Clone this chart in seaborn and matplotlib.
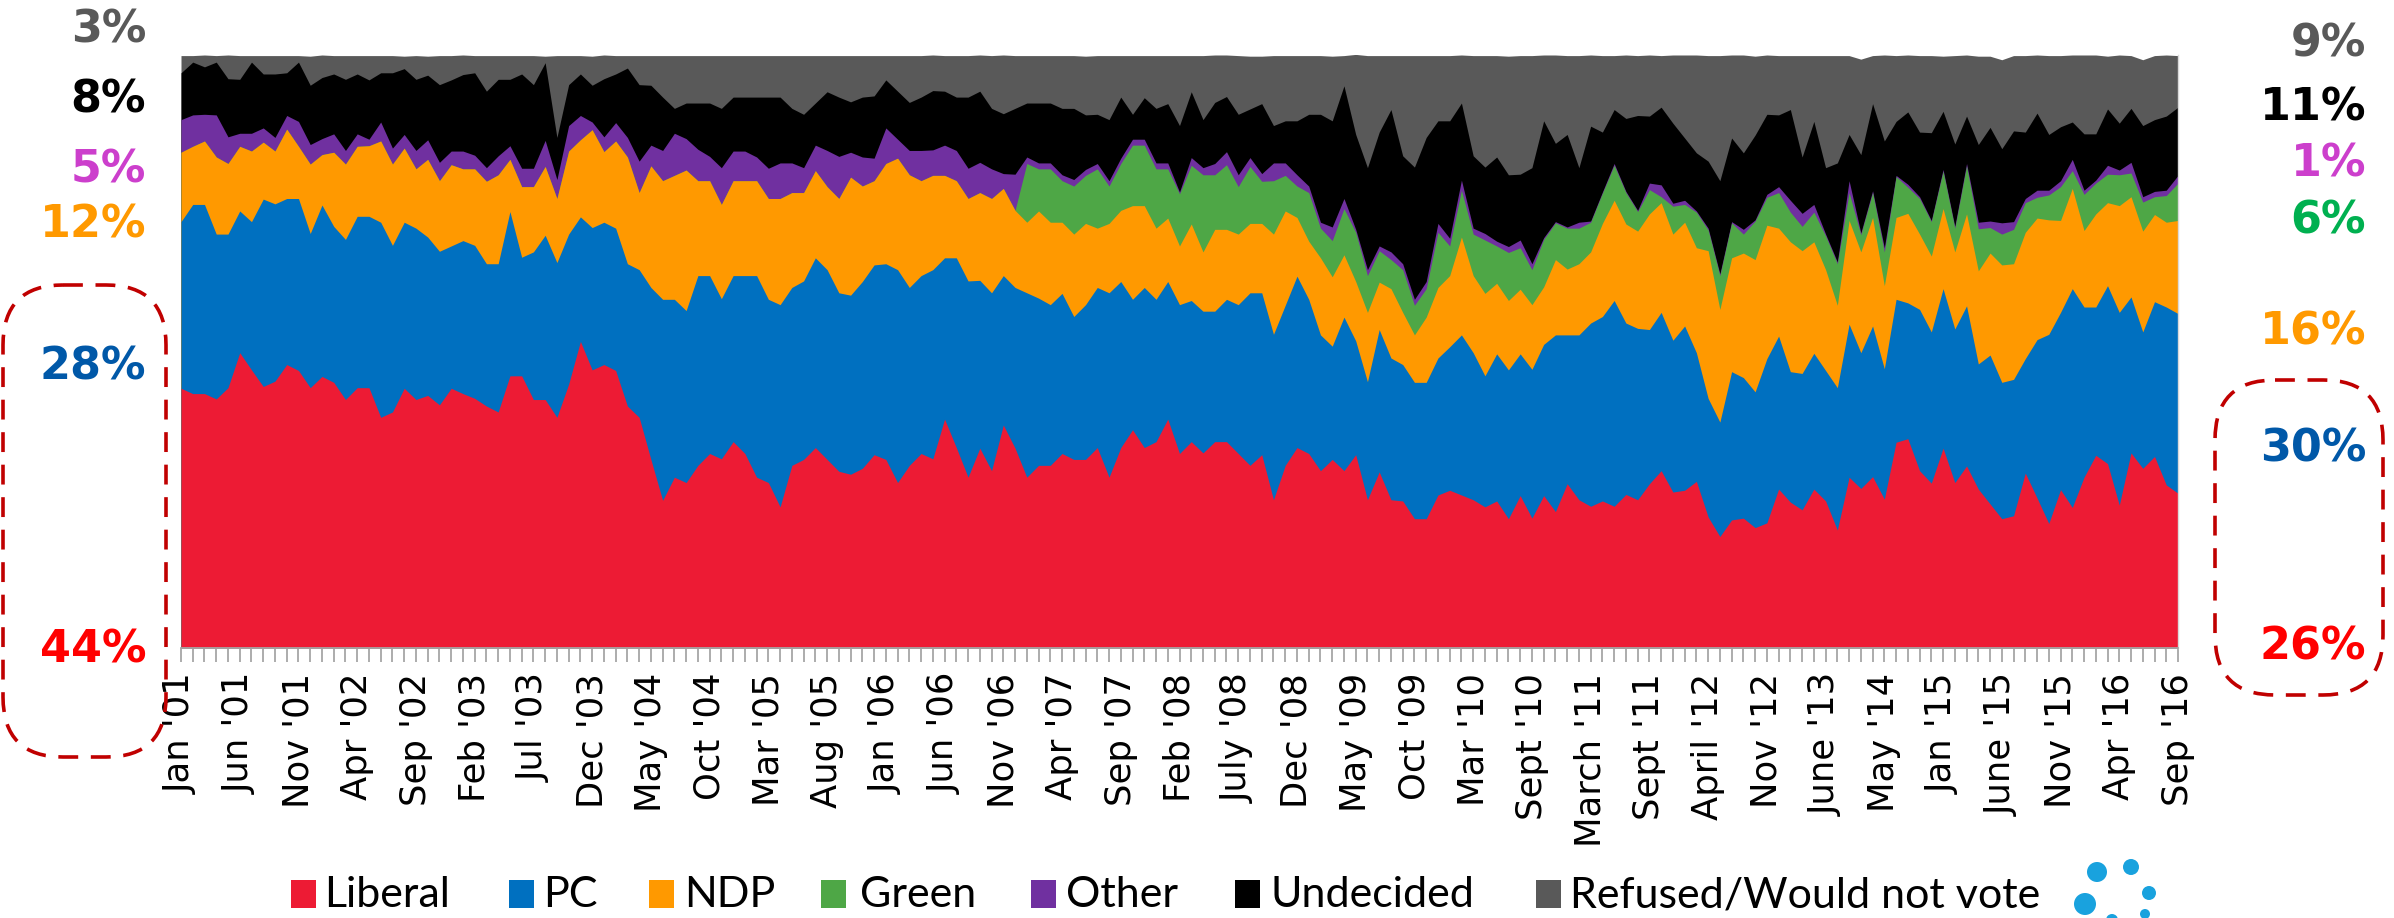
import numpy as np
import pandas as pd
import matplotlib
matplotlib.use("Agg")
import matplotlib.pyplot as plt
import seaborn as sns
from matplotlib.patches import FancyBboxPatch, Rectangle, Circle

sns.set_theme(style="white")
plt.rcParams['font.family'] = ['DejaVu Sans']

# ---------------- data (percent, one value per poll, Jan '01 .. Sep '16) ----------------
tick_labels = ["Jan '01", "Jun '01", "Nov '01", "Apr '02", "Sep '02", "Feb '03", "Jul '03", "Dec '03",
               "May '04", "Oct '04", "Mar '05", "Aug '05", "Jan '06", "Jun '06", "Nov '06", "Apr '07",
               "Sep '07", "Feb '08", "July '08", "Dec '08", "May '09", "Oct '09", "Mar '10", "Sept '10",
               "March '11", "Sept '11", "April '12", "Nov '12", "June '13", "May '14", "Jan '15",
               "June '15", "Nov '15", "Apr '16", "Sep '16"]

liberal = [43.8, 42.9, 42.9, 42.0, 43.9, 49.8, 46.9, 44.1, 45.0, 47.8,
           46.8, 43.9, 45.8, 44.8, 41.9, 43.9, 43.9, 38.9, 39.8, 43.8,
           41.9, 42.6, 41.0, 43.8, 42.9, 42.1, 40.8, 39.8, 45.9, 45.9,
           41.9, 41.9, 38.9, 44.5, 51.7, 46.9, 47.8, 46.8, 40.8, 38.9,
           31.8, 24.9, 28.8, 27.9, 30.8, 32.8, 31.9, 34.8, 32.8, 28.8,
           27.9, 23.8, 30.8, 31.8, 33.8, 31.8, 29.8, 29.3, 30.3, 32.6,
           31.8, 27.9, 30.8, 32.8, 31.9, 38.6, 33.8, 28.8, 33.7, 29.9,
           37.6, 33.7, 28.8, 30.8, 30.8, 32.8, 31.8, 31.8, 33.8, 28.8,
           33.8, 36.8, 33.8, 34.8, 38.6, 32.8, 34.8, 32.9, 34.8, 34.8,
           32.8, 30.8, 32.6, 25.0, 30.8, 33.8, 32.8, 29.9, 31.8, 29.9,
           32.6, 25.0, 29.7, 25.0, 24.8, 21.8, 21.8, 25.8, 26.6, 25.8,
           25.0, 23.8, 24.8, 21.8, 25.7, 21.9, 25.7, 23.0, 27.7, 25.0,
           23.9, 24.8, 23.9, 25.9, 25.0, 27.7, 29.9, 26.3, 26.6, 28.1,
           22.1, 18.8, 21.6, 21.9, 20.3, 21.1, 26.8, 24.6, 23.3, 26.8,
           24.8, 19.9, 28.8, 26.9, 28.9, 25.1, 34.7, 35.3, 29.9, 27.8,
           33.7, 27.9, 30.7, 26.8, 24.3, 21.8, 22.3, 29.5, 25.3, 21.0,
           26.7, 23.7, 28.8, 32.5, 31.1, 24.1, 32.9, 30.3, 32.3, 27.5,
           26.1]

pc = [28.1, 31.9, 31.9, 27.8, 25.9, 23.9, 25.0, 31.6, 29.9, 28.0,
      29.0, 26.0, 28.9, 26.3, 27.0, 28.9, 28.9, 32.9, 28.1, 28.0,
      28.9, 26.7, 25.9, 24.0, 25.8, 25.8, 24.0, 25.0, 27.7, 20.0,
      24.9, 27.7, 26.1, 25.3, 21.0, 24.0, 24.0, 24.0, 24.0, 24.9,
      29.0, 33.9, 30.0, 29.0, 32.0, 30.0, 27.0, 28.0, 30.0, 34.0,
      30.9, 34.1, 30.0, 30.1, 32.0, 32.0, 30.1, 30.2, 31.5, 32.0,
      33.0, 35.9, 30.0, 30.0, 31.9, 27.2, 32.0, 33.1, 28.3, 30.0,
      25.2, 27.1, 31.1, 28.2, 27.1, 27.0, 24.1, 26.1, 27.0, 31.1,
      28.0, 22.0, 27.0, 24.0, 23.2, 25.1, 23.8, 23.9, 22.0, 24.0,
      25.1, 29.1, 27.3, 27.9, 27.0, 28.9, 26.0, 22.9, 19.1, 25.9,
      19.2, 19.9, 24.0, 23.9, 23.0, 23.0, 23.0, 23.1, 24.2, 27.0,
      24.8, 22.1, 24.8, 25.1, 23.9, 25.1, 25.5, 29.8, 25.1, 27.8,
      30.9, 31.1, 34.7, 28.9, 28.9, 26.0, 26.7, 25.6, 27.7, 21.7,
      20.0, 19.3, 25.0, 23.7, 22.9, 27.7, 25.8, 22.0, 23.0, 22.9,
      22.0, 24.0, 25.8, 22.9, 25.4, 22.0, 24.1, 22.9, 27.2, 25.5,
      26.9, 25.9, 27.0, 21.1, 25.1, 23.0, 23.0, 19.3, 26.7, 31.9,
      29.9, 36.9, 28.7, 25.0, 30.0, 32.5, 26.3, 23.0, 26.1, 30.0,
      30.3]

ndp = [11.7, 9.8, 10.7, 13.0, 11.9, 10.9, 11.9, 9.6, 8.9, 11.7,
       8.8, 11.7, 8.5, 12.5, 12.7, 11.8, 11.9, 13.7, 13.7, 12.5,
       10.0, 13.1, 11.9, 13.7, 12.1, 12.9, 13.9, 15.0, 8.8, 11.9,
       11.0, 11.6, 10.8, 14.0, 13.0, 16.5, 11.9, 14.7, 18.0, 13.0,
       20.5, 20.0, 20.9, 23.7, 16.0, 16.0, 15.9, 16.0, 16.0, 16.0,
       17.0, 17.9, 16.0, 14.9, 14.7, 14.0, 15.9, 19.9, 16.1, 14.2,
       16.9, 18.8, 19.0, 16.0, 15.9, 13.9, 13.0, 13.9, 14.8, 15.9,
       14.7, 13.0, 11.9, 14.7, 13.9, 12.0, 13.9, 13.7, 10.0, 11.7,
       12.0, 15.8, 13.8, 12.0, 10.7, 9.9, 12.9, 10.0, 13.8, 11.8,
       11.9, 11.7, 11.7, 16.9, 15.9, 9.9, 9.8, 13.0, 11.7, 10.5,
       10.0, 11.7, 8.0, 11.7, 8.8, 8.0, 11.0, 11.9, 12.0, 16.5,
       13.0, 13.9, 11.9, 11.7, 10.9, 10.9, 9.7, 12.7, 11.1, 12.0,
       12.0, 15.7, 16.9, 16.7, 16.4, 19.5, 18.5, 17.9, 17.5, 17.7,
       24.9, 19.0, 19.2, 21.0, 22.3, 22.5, 18.2, 21.9, 20.7, 18.8,
       17.0, 13.9, 17.5, 17.0, 18.3, 14.0, 13.8, 15.1, 12.7, 12.8,
       13.5, 13.0, 15.5, 15.7, 17.2, 19.8, 19.5, 21.3, 20.5, 19.3,
       15.5, 16.9, 12.9, 15.7, 14.0, 18.0, 16.9, 17.0, 14.7, 14.3,
       15.7]

green = [0.0, 0.0, 0.0, 0.0, 0.0, 0.0, 0.0, 0.0, 0.0, 0.0,
         0.0, 0.0, 0.0, 0.0, 0.0, 0.0, 0.0, 0.0, 0.0, 0.0,
         0.0, 0.0, 0.0, 0.0, 0.0, 0.0, 0.0, 0.0, 0.0, 0.0,
         0.0, 0.0, 0.0, 0.0, 0.0, 0.0, 0.0, 0.0, 0.0, 0.0,
         0.0, 0.0, 0.0, 0.0, 0.0, 0.0, 0.0, 0.0, 0.0, 0.0,
         0.0, 0.0, 0.0, 0.0, 0.0, 0.0, 0.0, 0.0, 0.0, 0.0,
         0.0, 0.0, 0.0, 0.0, 0.0, 0.0, 0.0, 0.0, 0.0, 0.0,
         0.0, 0.0, 9.9, 7.1, 9.0, 7.0, 8.1, 8.1, 10.0, 6.3,
         7.9, 10.2, 10.2, 10.0, 8.3, 8.8, 9.9, 13.0, 9.2, 10.9,
         8.0, 9.6, 7.1, 9.0, 6.0, 5.3, 8.2, 5.0, 6.1, 7.8,
         8.3, 6.2, 5.3, 4.9, 7.2, 5.0, 4.8, 9.3, 5.0, 7.9,
         7.0, 9.0, 6.3, 8.1, 7.0, 5.9, 8.0, 6.2, 6.9, 6.0,
         5.0, 5.1, 5.9, 5.3, 3.3, 4.1, 1.0, 4.7, 3.0, 6.0,
         3.5, 5.7, 5.9, 3.2, 6.5, 4.7, 6.0, 5.0, 4.1, 5.0,
         5.7, 7.0, 4.7, 2.9, 4.2, 5.7, 6.9, 4.4, 6.0, 5.8,
         6.3, 4.0, 8.1, 7.1, 4.3, 5.2, 5.8, 5.0, 3.5, 4.2,
         5.7, 3.0, 6.1, 5.2, 4.8, 5.2, 4.0, 4.9, 3.0, 4.5,
         6.3]

other = [5.5, 5.3, 4.5, 7.1, 4.5, 2.2, 3.0, 2.4, 2.3, 2.3,
         4.2, 3.3, 2.7, 3.1, 2.3, 2.1, 1.1, 3.2, 2.7, 2.3,
         3.1, 3.3, 3.1, 2.3, 3.0, 2.3, 2.3, 3.2, 2.3, 3.1,
         3.1, 4.4, 3.2, 4.3, 4.1, 1.3, 2.5, 3.1, 3.3, 5.3,
         3.5, 5.1, 7.1, 5.3, 5.3, 4.1, 6.2, 5.0, 5.0, 4.0,
         5.1, 6.0, 5.0, 4.2, 4.3, 6.1, 7.1, 4.2, 4.9, 3.8,
         6.0, 3.2, 4.1, 5.1, 4.3, 5.1, 5.1, 5.1, 5.1, 5.0,
         2.5, 6.1, 1.1, 1.0, 1.0, 1.0, 1.1, 1.0, 0.9, 0.9,
         0.9, 1.0, 1.0, 1.0, 1.0, 0.3, 1.3, 1.2, 1.9, 2.2,
         2.0, 1.5, 1.3, 3.0, 2.1, 1.9, 1.1, 1.0, 2.3, 1.7,
         0.5, 1.0, 0.8, 1.3, 1.0, 1.0, 1.2, 1.5, 1.3, 1.7,
         1.0, 1.1, 0.8, 1.0, 1.3, 1.0, 0.3, 0.2, 0.2, 1.0,
         0.2, 0.2, 0.3, 0.2, 0.2, 1.1, 2.0, 0.5, 0.7, 0.2,
         0.3, 0.3, 0.2, 0.8, 0.2, 0.5, 1.0, 2.0, 2.2, 1.3,
         0.3, 0.3, 2.0, 0.3, 0.3, 0.7, 0.2, 0.5, 0.3, 0.2,
         0.3, 0.3, 0.4, 1.1, 1.1, 1.9, 1.3, 0.7, 1.2, 0.8,
         1.0, 1.9, 0.7, 0.5, 1.5, 0.8, 1.8, 0.9, 0.9, 0.9,
         1.3]

undecided = [7.9, 8.9, 8.0, 8.9, 9.8, 9.1, 12.0, 9.1, 10.7, 7.2,
             10.0, 10.0, 10.3, 10.1, 12.0, 10.1, 10.0, 8.3, 12.7, 11.1,
             12.0, 10.9, 13.1, 12.0, 12.9, 13.9, 12.9, 12.9, 11.2, 15.9,
             14.1, 13.1, 7.1, 6.9, 7.0, 6.2, 9.8, 8.2, 11.7, 12.9,
             10.1, 9.0, 4.2, 6.0, 7.8, 9.0, 10.0, 9.1, 9.1, 10.1,
             12.0, 11.1, 9.2, 9.0, 7.1, 9.9, 10.0, 8.5, 10.1, 10.5,
             8.1, 8.1, 8.1, 9.0, 10.0, 9.1, 9.0, 12.0, 12.0, 10.2,
             10.1, 11.1, 9.1, 10.1, 10.1, 11.2, 12.0, 9.2, 8.3, 10.3,
             10.3, 4.2, 7.0, 9.2, 10.0, 11.2, 11.1, 8.1, 10.3, 9.3,
             10.2, 8.2, 11.8, 6.3, 7.1, 9.1, 12.1, 18.2, 17.9, 19.0,
             16.0, 17.2, 19.2, 24.0, 18.2, 22.3, 24.3, 17.3, 19.8, 13.0,
             12.2, 11.2, 14.2, 12.1, 11.1, 16.2, 19.7, 13.2, 15.6, 9.2,
             16.0, 10.1, 9.1, 12.3, 16.0, 11.3, 13.1, 13.5, 10.5, 9.8,
             11.3, 15.7, 14.1, 12.9, 14.3, 13.5, 12.1, 15.3, 9.5, 14.0,
             11.2, 16.7, 7.8, 13.2, 14.7, 18.0, 9.1, 12.2, 10.9, 14.8,
             9.8, 13.9, 8.0, 13.1, 15.8, 12.5, 15.3, 11.2, 13.0, 9.4,
             9.1, 6.3, 9.5, 7.8, 9.5, 7.9, 9.1, 12.0, 12.1, 12.5,
             11.5]

refused = [2.9, 1.1, 2.0, 1.1, 4.0, 4.0, 1.1, 3.1, 3.1, 2.9,
           1.1, 4.9, 3.8, 3.1, 4.0, 3.1, 4.1, 2.9, 2.9, 2.1,
           4.0, 3.2, 4.9, 4.1, 3.3, 2.9, 6.0, 4.0, 4.0, 3.1,
           4.9, 1.1, 13.8, 4.9, 3.1, 4.9, 4.0, 3.1, 2.1, 4.9,
           5.0, 7.0, 8.9, 8.0, 8.0, 8.0, 8.9, 7.0, 7.0, 7.0,
           7.0, 7.0, 8.9, 9.9, 8.0, 6.1, 7.0, 7.8, 7.0, 6.8,
           4.1, 6.0, 7.9, 7.0, 6.0, 6.0, 7.0, 7.0, 6.1, 8.9,
           9.9, 8.9, 8.0, 8.0, 8.0, 8.9, 8.9, 9.9, 9.9, 10.8,
           7.0, 9.9, 7.1, 8.9, 8.1, 11.8, 6.1, 10.8, 8.0, 7.0,
           9.9, 8.9, 8.0, 11.8, 11.0, 11.0, 9.9, 9.9, 10.9, 5.1,
           13.5, 18.9, 12.9, 9.1, 16.9, 18.8, 13.8, 11.0, 11.0, 8.1,
           16.9, 18.8, 17.1, 20.0, 20.0, 18.9, 11.1, 14.9, 13.3, 18.9,
           12.0, 12.9, 9.1, 10.7, 10.1, 10.3, 8.7, 11.5, 14.0, 16.5,
           17.8, 21.1, 14.0, 16.5, 13.3, 10.0, 10.0, 9.1, 17.1, 11.1,
           18.9, 18.1, 13.3, 16.1, 8.1, 14.5, 11.1, 9.6, 12.9, 13.0,
           9.3, 14.9, 10.3, 14.9, 12.0, 15.0, 12.7, 12.9, 9.8, 13.3,
           12.0, 11.3, 13.3, 13.3, 8.9, 11.5, 8.9, 11.1, 10.8, 10.3,
           8.7]

series_names = ["Liberal", "PC", "NDP", "Green", "Other", "Undecided", "Refused/Would not vote"]
series_colors = ["#ED1B34", "#0070C0", "#FF9900", "#4EA746", "#7030A0", "#000000", "#595959"]

start_labels = ["44%", "28%", "12%", "5%", "8%", "3%"]
end_labels = ["26%", "30%", "16%", "6%", "1%", "11%", "9%"]

df = pd.DataFrame({"Liberal": liberal, "PC": pc, "NDP": ndp, "Green": green,
                   "Other": other, "Undecided": undecided,
                   "Refused/Would not vote": refused})
x = np.arange(len(df))
cum = df[series_names].cumsum(axis=1)
palette = sns.color_palette(series_colors)

# ---------------- figure ----------------
W, H = 2394, 918
fig = plt.figure(figsize=(W / 100, H / 100), dpi=100)
fig.patch.set_facecolor("white")

L, R, T, B = 181, 2178, 55, 648
ax = fig.add_axes([L / W, 1 - B / H, (R - L) / W, (B - T) / H])
ax.set_facecolor("white")

for name, col in reversed(list(zip(series_names, palette))):
    ax.fill_between(x, 0, cum[name].values, color=col, linewidth=0, zorder=2)

ax.set_xlim(0, len(df) - 1)
ax.set_ylim(0, 100)
ax.set_yticks([])
ax.set_xticks(np.arange(0, len(df), 5))
ax.set_xticklabels(tick_labels, rotation=90, fontsize=25.5, color="black",
                   family=["DejaVu Sans"])
ax.set_xticks(np.arange(len(df)), minor=True)
ax.tick_params(axis="x", which="both", direction="out", length=10, width=1.3,
               color="#A6A6A6", pad=8, bottom=True)
for s in ["top", "left"]:
    ax.spines[s].set_visible(False)
ax.spines["bottom"].set_color("#A6A6A6")
ax.spines["bottom"].set_linewidth(1.3)
ax.spines["right"].set_color("#D9D9D9")
ax.spines["right"].set_linewidth(1.0)
ax.grid(False)

# ---------------- overlay in pixel coordinates ----------------
ov = fig.add_axes([0, 0, 1, 1], zorder=5)
ov.set_xlim(0, W)
ov.set_ylim(H, 0)
ov.axis("off")
ov.patch.set_alpha(0)

lab_font = dict(fontsize=32, fontweight="bold", family=["DejaVu Sans"], ha="right", va="center")
left_items = [("3%", 30, "#595959"), ("8%", 100, "#000000"), ("5%", 170, "#CC3FCC"),
              ("12%", 225, "#FF9900"), ("28%", 367, "#0058A8"), ("44%", 650, "#FF0000")]
right_items = [("9%", 44, "#595959"), ("11%", 108, "#000000"), ("1%", 164, "#CC3FCC"),
               ("6%", 221, "#00B050"), ("16%", 332, "#FF9900"), ("30%", 449, "#0058A8"),
               ("26%", 647, "#FF0000")]
for t, y, c in left_items:
    ov.text(146, y, t, color=c, **lab_font)
for t, y, c in right_items:
    ov.text(2366, y, t, color=c, **lab_font)

box_kw = dict(boxstyle="round,pad=0,rounding_size=60", facecolor="none",
              edgecolor="#C00000", linewidth=2.6, linestyle=(0, (5.5, 3.5)))
ov.add_patch(FancyBboxPatch((3, 285), 163, 472, **box_kw))
ov.add_patch(FancyBboxPatch((2215, 380), 168, 315, **box_kw))

# legend (manual, pixel positions)
leg_items = [(291, 324), (509, 543), (649, 684), (821, 860), (1031, 1066), (1235, 1270), (1536, 1570)]
for (hx, tx), name, col in zip(leg_items, series_names, palette):
    ov.add_patch(Rectangle((hx, 880), 25, 28, facecolor=col, edgecolor="none"))
    ov.text(tx, 907, name, fontsize=31, family=["Lato", "DejaVu Sans"], color="black",
            ha="left", va="baseline")

# logo dots
for cx, cy, r in [(2097, 872, 10), (2131, 867, 8), (2149, 893, 7), (2085, 904, 11),
                  (2145, 914, 5), (2112, 920, 6)]:
    ov.add_patch(Circle((cx, cy), r, facecolor="#19A2DE", edgecolor="none"))

fig.savefig("out.png", dpi=100)
